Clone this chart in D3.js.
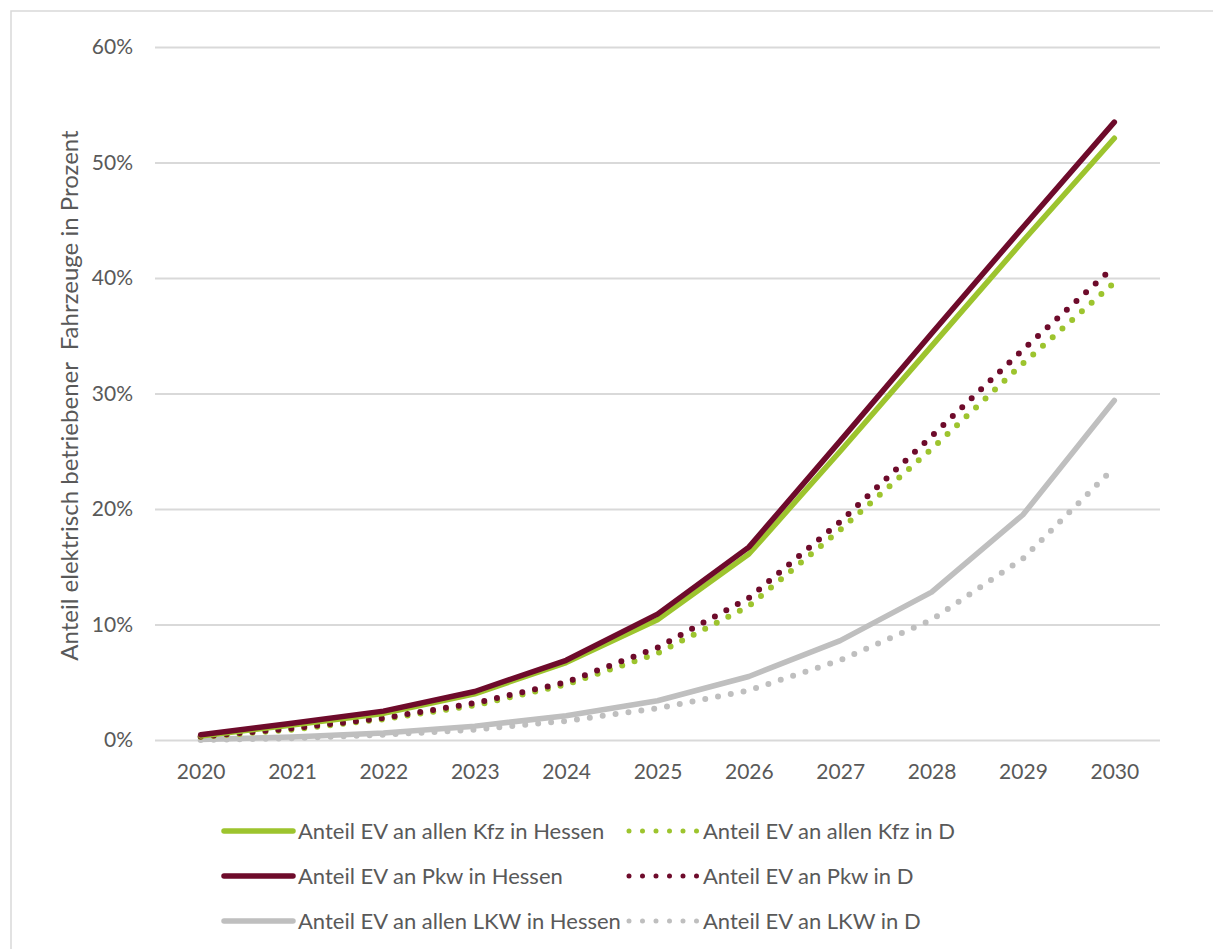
<!DOCTYPE html>
<html>
<head>
<meta charset="utf-8">
<script src="https://cdn.jsdelivr.net/npm/d3@7/dist/d3.min.js"></script>
<style>
  html, body { margin: 0; padding: 0; background: #fff; }
  svg { display: block; }
  text { font-family: Lato, "Open Sans", sans-serif; fill: #595959; }
</style>
</head>
<body>
<svg id="chart" width="1213" height="949"></svg>
<script>
// ---- data ----
const years = ["2020","2021","2022","2023","2024","2025","2026","2027","2028","2029","2030"];
const yTicks = [0, 0.1, 0.2, 0.3, 0.4, 0.5, 0.6];
const kfzHessen = [0.35, 1.3, 2.3, 4.0, 6.7, 10.4, 16.1, 25.0, 34.1, 43.2, 52.1];
const pkwHessen = [0.45, 1.45, 2.5, 4.2, 6.9, 10.9, 16.7, 25.9, 35.2, 44.4, 53.5];
const kfzD      = [0.25, 0.9, 1.8, 3.0, 4.8, 7.5, 11.6, 18.2, 25.2, 32.6, 39.6];
const pkwD      = [0.3, 1.0, 1.9, 3.2, 5.0, 8.0, 12.3, 18.9, 26.3, 33.8, 41.0];
const lkwHessen = [0.05, 0.25, 0.6, 1.2, 2.1, 3.4, 5.5, 8.6, 12.8, 19.5, 29.4];
const lkwD      = [0.0, 0.15, 0.45, 0.9, 1.65, 2.75, 4.3, 6.9, 10.4, 15.7, 23.6];
const seriesNames = [
  "Anteil EV an allen Kfz in Hessen",
  "Anteil EV an allen Kfz in D",
  "Anteil EV an Pkw in Hessen",
  "Anteil EV an Pkw in D",
  "Anteil EV an allen LKW in Hessen",
  "Anteil EV an LKW in D"
];
const yTitle = "Anteil elektrisch betriebener\u00A0 Fahrzeuge in Prozent";

// ---- styles ----
const GREEN = "#9dc42e", RED = "#6e0b2b", GREY = "#bfbfbf";
const series = [
  { name: seriesNames[5], values: lkwD,      color: GREY,  dotted: true },
  { name: seriesNames[4], values: lkwHessen, color: GREY,  dotted: false },
  { name: seriesNames[1], values: kfzD,      color: GREEN, dotted: true },
  { name: seriesNames[3], values: pkwD,      color: RED,   dotted: true },
  { name: seriesNames[0], values: kfzHessen, color: GREEN, dotted: false },
  { name: seriesNames[2], values: pkwHessen, color: RED,   dotted: false }
];

const svg = d3.select("#chart");

// outer border
svg.append("rect").attr("x", 11).attr("y", 11).attr("width", 1400).attr("height", 1200)
  .attr("fill", "none").attr("stroke", "#d9d9d9").attr("stroke-width", 1.5);

const plot = { left: 155, right: 1160, top: 47, bottom: 740 };
const x = d3.scalePoint().domain(years).range([plot.left, plot.right]).padding(0.5);
const y = d3.scaleLinear().domain([0, 0.6]).range([plot.bottom, plot.top]);

// grid + y labels
const yAxis = d3.axisLeft(y).tickValues(yTicks).tickFormat(d3.format(".0%"))
  .tickSize(-(plot.right - plot.left)).tickPadding(22);
const gy = svg.append("g").attr("transform", `translate(${plot.left},0)`).call(yAxis);
gy.select(".domain").remove();
gy.selectAll(".tick line").attr("stroke", "#d9d9d9").attr("stroke-width", 2);
gy.selectAll(".tick text").attr("font-size", 21).attr("fill", "#595959")
  .style("font-family", "Lato, 'Open Sans', sans-serif");

// x labels
const xAxis = d3.axisBottom(x).tickSize(0).tickPadding(24);
const gx = svg.append("g").attr("transform", `translate(0,${plot.bottom})`).call(xAxis);
gx.select(".domain").remove();
gx.selectAll(".tick text").attr("font-size", 21).attr("fill", "#595959")
  .style("font-family", "Lato, 'Open Sans', sans-serif");

// y title
svg.append("text")
  .attr("transform", `translate(78,${(plot.top + plot.bottom) / 2 + 2}) rotate(-90)`)
  .attr("text-anchor", "middle").attr("font-size", 24).attr("fill", "#595959")
  .text(yTitle);

// lines
const line = d3.line().x((d, i) => x(years[i])).y(d => y(d / 100));
series.forEach(s => {
  svg.append("path").datum(s.values)
    .attr("d", line).attr("fill", "none").attr("stroke", s.color)
    .attr("stroke-width", s.dotted ? 6 : 5.5)
    .attr("stroke-linecap", "round").attr("stroke-linejoin", "round")
    .attr("stroke-dasharray", s.dotted ? "0 13" : null);
});

// legend
const legendItems = [
  { name: seriesNames[0], color: GREEN, dotted: false, col: 0, row: 0 },
  { name: seriesNames[1], color: GREEN, dotted: true,  col: 1, row: 0 },
  { name: seriesNames[2], color: RED,   dotted: false, col: 0, row: 1 },
  { name: seriesNames[3], color: RED,   dotted: true,  col: 1, row: 1 },
  { name: seriesNames[4], color: GREY,  dotted: false, col: 0, row: 2 },
  { name: seriesNames[5], color: GREY,  dotted: true,  col: 1, row: 2 }
];
const colX = [222, 627];
const rowY = [831, 876, 921];
legendItems.forEach(it => {
  const lx = colX[it.col], ly = rowY[it.row];
  svg.append("line").attr("x1", lx + 2).attr("x2", lx + 71).attr("y1", ly).attr("y2", ly)
    .attr("stroke", it.color).attr("stroke-width", it.dotted ? 5 : 5.5)
    .attr("stroke-linecap", "round")
    .attr("stroke-dasharray", it.dotted ? "0 13.5" : null);
  svg.append("text").attr("x", lx + 76).attr("y", ly).attr("dy", "0.35em")
    .attr("font-size", 22).attr("fill", "#595959").text(it.name);
});
</script>
</body>
</html>
